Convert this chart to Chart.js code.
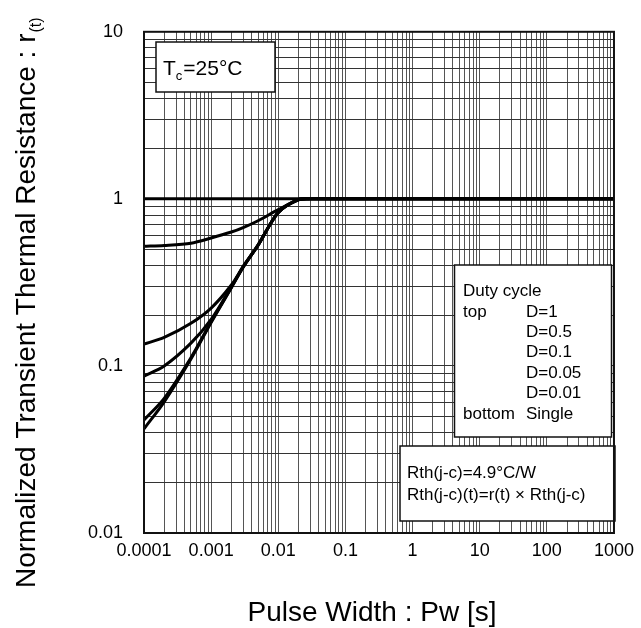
<!DOCTYPE html>
<html>
<head>
<meta charset="utf-8">
<script src="https://cdn.jsdelivr.net/npm/chart.js@4.4.1/dist/chart.umd.min.js"></script>
<style>
  html, body { margin: 0; padding: 0; background: #fff; }
  #wrap { width: 641px; height: 628px; }
</style>
</head>
<body>
<div id="wrap"><canvas id="chart" width="641" height="628"></canvas></div>
<script>
var pulseWidth = [0.0001, 0.0002, 0.0005, 0.001, 0.002, 0.003, 0.005, 0.01, 0.02, 0.03, 0.1, 1, 10, 100, 1000];

// r(t) per duty cycle, same order as pulseWidth
var rD1     = [1, 1, 1, 1, 1, 1, 1, 1, 1, 1, 1, 1, 1, 1, 1];
var rD05    = [0.52, 0.526, 0.543, 0.583, 0.633, 0.673, 0.74, 0.862, 0.988, 1, 1, 1, 1, 1, 1];
var rD01    = [0.135, 0.148, 0.180, 0.222, 0.305, 0.394, 0.53, 0.83, 0.988, 1, 1, 1, 1, 1, 1];
var rD005   = [0.087, 0.1, 0.137, 0.19, 0.298, 0.392, 0.528, 0.828, 0.988, 1, 1, 1, 1, 1, 1];
var rD001   = [0.0475, 0.064, 0.112, 0.184, 0.295, 0.391, 0.528, 0.828, 0.988, 1, 1, 1, 1, 1, 1];
var rSingle = [0.042, 0.061, 0.11, 0.182, 0.294, 0.39, 0.528, 0.828, 0.988, 1, 1, 1, 1, 1, 1];

// axis decades and their labels
var xDecades = [0.0001, 0.001, 0.01, 0.1, 1, 10, 100, 1000];
var xTickLabels = ['0.0001', '0.001', '0.01', '0.1', '1', '10', '100', '1000'];
var yDecades = [0.01, 0.1, 1, 10];
var yTickLabels = ['0.01', '0.1', '1', '10'];

var legendLines = [
  ['Duty cycle', ''],
  ['top', 'D=1'],
  ['', 'D=0.5'],
  ['', 'D=0.1'],
  ['', 'D=0.05'],
  ['', 'D=0.01'],
  ['bottom', 'Single']
];
var rthLines = ['Rth(j-c)=4.9\u00B0C/W', 'Rth(j-c)(t)=r(t) \u00D7 Rth(j-c)'];

var FONT = 'Arial, "Liberation Sans", sans-serif';

// 1..9 x each decade, for the grid
function gridTicks(decades){
  var out = [];
  for (var i = 0; i < decades.length; i++){
    if (i == decades.length - 1){ out.push(decades[i]); break; }
    for (var m = 1; m < 10; m++) out.push(m * decades[i]);
  }
  return out;
}

function decadeLabel(value, decades, labels){
  for (var i = 0; i < decades.length; i++){
    if (Math.abs(Math.log10(value) - Math.log10(decades[i])) < 1e-6) return labels[i];
  }
  return '';
}

function toPoints(ys){
  return pulseWidth.map(function(x, i){ return {x: x, y: ys[i]}; });
}

function curve(label, ys){
  return {
    label: label,
    data: toPoints(ys),
    borderColor: '#000',
    borderWidth: 3,
    pointRadius: 0,
    fill: false,
    tension: 0.3
  };
}

function box(ctx, x, y, w, h){
  ctx.fillStyle = '#fff';
  ctx.fillRect(x, y, w, h);
  ctx.strokeStyle = '#111';
  ctx.lineWidth = 1.5;
  ctx.strokeRect(x, y, w, h);
}

var decorations = {
  id: 'decorations',
  afterDatasetsDraw: function(chart){
    var ctx = chart.ctx;
    ctx.save();

    // Tc box
    box(ctx, 156, 42, 119, 50);
    ctx.fillStyle = '#000';
    ctx.textBaseline = 'alphabetic';
    ctx.textAlign = 'left';
    ctx.font = '21px ' + FONT;
    ctx.fillText('T', 163, 75);
    var tw = ctx.measureText('T').width;
    ctx.font = '13px ' + FONT;
    ctx.fillText('c', 163 + tw, 80);
    var cw = ctx.measureText('c').width;
    ctx.font = '21px ' + FONT;
    ctx.fillText('=25\u00B0C', 163 + tw + cw + 1, 75);

    // duty cycle box
    box(ctx, 454.5, 265, 157, 172);
    ctx.fillStyle = '#000';
    ctx.font = '17px ' + FONT;
    ctx.textBaseline = 'middle';
    legendLines.forEach(function(l, i){
      var y = 291.5 + i * 20.4;
      if (l[0]) ctx.fillText(l[0], 463, y);
      if (l[1]) ctx.fillText(l[1], 526, y);
    });

    // Rth box
    box(ctx, 400, 446, 215, 75);
    ctx.fillStyle = '#000';
    rthLines.forEach(function(t, i){
      ctx.fillText(t, 407, 473.5 + i * 22.3);
    });

    ctx.restore();
  },
  afterDraw: function(chart){
    var ctx = chart.ctx;
    var a = chart.chartArea;
    ctx.save();
    // frame
    ctx.strokeStyle = '#111';
    ctx.lineWidth = 2;
    ctx.strokeRect(a.left, a.top, a.right - a.left, a.bottom - a.top);

    // axis titles
    ctx.fillStyle = '#000';
    ctx.textBaseline = 'alphabetic';
    ctx.textAlign = 'center';
    ctx.font = '28px ' + FONT;
    ctx.fillText('Pulse Width : Pw [s]', 372, 621);

    ctx.translate(35, 588);
    ctx.rotate(-Math.PI / 2);
    ctx.textAlign = 'left';
    var main = 'Normalized Transient Thermal Resistance : r';
    ctx.fillText(main, 0, 0);
    var mw = ctx.measureText(main).width;
    ctx.font = '16px ' + FONT;
    ctx.fillText('(t)', mw + 1, 6);
    ctx.restore();
  }
};

new Chart(document.getElementById('chart'), {
  type: 'line',
  data: {
    datasets: [
      curve('D=1', rD1),
      curve('D=0.5', rD05),
      curve('D=0.1', rD01),
      curve('D=0.05', rD005),
      curve('D=0.01', rD001),
      curve('Single', rSingle)
    ]
  },
  options: {
    responsive: false,
    animation: false,
    devicePixelRatio: 1,
    layout: { padding: { left: 0, right: 25, top: 31, bottom: 0 } },
    plugins: {
      legend: { display: false },
      tooltip: { enabled: false },
      title: { display: false }
    },
    scales: {
      x: {
        type: 'logarithmic',
        min: 0.0001,
        max: 1000,
        afterBuildTicks: function(scale){
          scale.ticks = gridTicks(xDecades).map(function(v){ return {value: v}; });
        },
        afterFit: function(scale){ scale.height = 95; },
        grid: { color: '#555', lineWidth: 1, drawTicks: false },
        border: { display: false },
        ticks: {
          autoSkip: false,
          maxRotation: 0,
          padding: 7,
          color: '#000',
          font: { family: FONT, size: 18 },
          callback: function(value){ return decadeLabel(value, xDecades, xTickLabels); }
        }
      },
      y: {
        type: 'logarithmic',
        min: 0.01,
        max: 10,
        afterBuildTicks: function(scale){
          scale.ticks = gridTicks(yDecades).map(function(v){ return {value: v}; });
        },
        afterFit: function(scale){ scale.width = 144; },
        grid: { color: '#333', lineWidth: 1, drawTicks: false },
        border: { display: false },
        ticks: {
          autoSkip: false,
          padding: 21,
          color: '#000',
          font: { family: FONT, size: 18 },
          callback: function(value){ return decadeLabel(value, yDecades, yTickLabels); }
        }
      }
    }
  },
  plugins: [decorations]
});
</script>
</body>
</html>
